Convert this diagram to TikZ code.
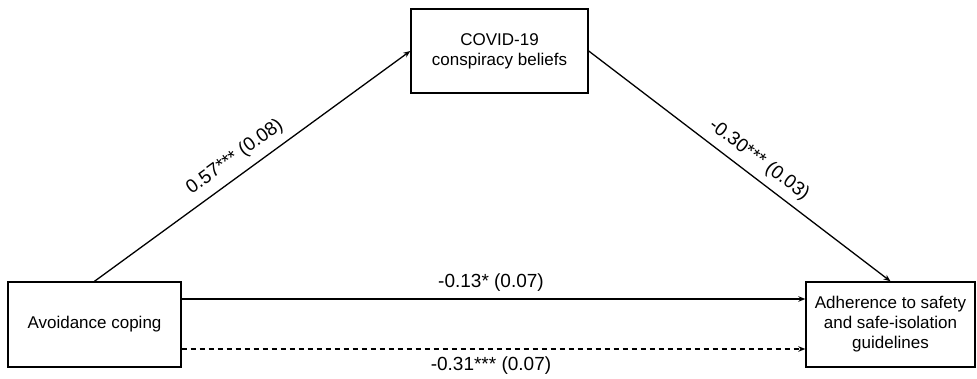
\documentclass[tikz,border=0pt]{standalone}
\usepackage{fontspec}
\setmainfont{Liberation Sans}
\usetikzlibrary{arrows.meta}
\begin{document}
\begin{tikzpicture}[x=1pt,y=-1pt,
  box/.style={draw, line width=1.4pt, rectangle, align=center, inner sep=0pt,
    font=\fontsize{17}{20}\selectfont},
  conn/.style={line width=1.3pt, -{Stealth[length=7pt,width=5.5pt]}},
  lbl/.style={font=\fontsize{19}{22}\selectfont, inner sep=0pt}]
\useasboundingbox[fill=white] (0,0) rectangle (977,379);
\node[box, minimum width=177pt, minimum height=84pt] (m) at (499.5,51) {COVID-19\\conspiracy beliefs};
\node[box, minimum width=173pt, minimum height=85pt] (a) at (94.5,324.5) {Avoidance coping};
\node[box, minimum width=169pt, minimum height=85pt] (r) at (890.5,324.5) {Adherence to safety\\and safe-isolation\\guidelines};
\draw[conn] (a.north) -- (m.west);
\draw[conn] (m.east) -- (r.north);
\draw[conn] ([yshift=25.5pt]a.east) -- ([yshift=25.5pt]r.west);
\draw[conn, dashed, dash pattern=on 5pt off 4pt] ([yshift=-24.5pt]a.east) -- ([yshift=-24.5pt]r.west);
\node[lbl, rotate=35.9] (l1) at (235,157) {0.57*** (0.08)};
\node[lbl, rotate=-37.3] (l2) at (759,160) {-0.30*** (0.03)};
\node[lbl] (l3) at (491,283) {-0.13* (0.07)};
\node[lbl] (l4) at (491,366) {-0.31*** (0.07)};
\end{tikzpicture}
\end{document}
